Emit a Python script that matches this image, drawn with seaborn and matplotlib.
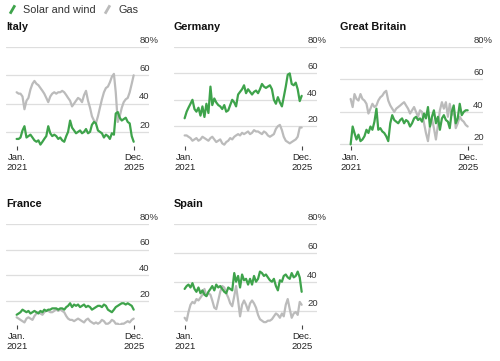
import numpy as np
import pandas as pd
import seaborn as sns
import matplotlib.pyplot as plt
from matplotlib.lines import Line2D

sns.set_theme(style="white")
plt.rcParams["font.family"] = ["Liberation Sans", "DejaVu Sans"]

# ---------------------------------------------------------
# Data: monthly share of power generation, Jan 2021 - Dec 2025 (%)
# ---------------------------------------------------------
months = pd.date_range("2021-01-01", periods=60, freq="MS")

italy_wind_solar = [15, 15, 16, 21, 24, 16, 17, 18, 16, 14, 13, 14, 11, 13, 15, 17, 24, 19, 17, 18,
                    17, 15, 16, 14, 13, 17, 20, 28, 23, 21, 19, 20, 21, 19, 20, 22, 19, 20, 25, 27,
                    26, 21, 20, 19, 16, 18, 17, 15, 19, 18, 33, 34, 30, 28, 29, 30, 27, 26, 17, 13]
italy_gas = [48, 47, 47, 45, 36, 42, 44, 50, 54, 56, 54, 53, 51, 49, 47, 44, 41, 45, 47, 48,
             47, 48, 48, 49, 48, 46, 44, 42, 38, 40, 42, 44, 43, 41, 46, 49, 42, 37, 31, 28,
             26, 31, 37, 43, 48, 51, 52, 55, 59, 61, 48, 27, 31, 37, 41, 43, 44, 48, 54, 60]

germany_wind_solar = [26, 31, 34, 37, 40, 33, 31, 34, 28, 35, 27, 37, 30, 50, 36, 41, 38, 36, 35, 33,
                      36, 31, 32, 36, 40, 38, 35, 44, 46, 48, 51, 45, 48, 46, 44, 46, 47, 45, 48, 52,
                      50, 49, 50, 51, 48, 40, 37, 42, 38, 35, 42, 50, 59, 60, 52, 51, 53, 48, 39, 43]
germany_gas = [13, 13, 12, 11, 9, 10, 11, 9, 10, 12, 11, 10, 9, 11, 12, 10, 8, 9, 10, 7,
               6, 8, 9, 11, 10, 12, 13, 14, 13, 15, 14, 15, 16, 14, 15, 17, 16, 16, 15, 14,
               16, 15, 13, 12, 13, 14, 18, 20, 21, 17, 12, 9, 8, 7, 8, 9, 10, 12, 19, 19]

gb_wind_solar = [20, 31, 27, 23, 26, 22, 23, 25, 29, 27, 31, 29, 34, 42, 29, 30, 28, 27, 25, 22,
                 33, 38, 35, 34, 33, 35, 36, 33, 35, 34, 31, 33, 36, 37, 35, 36, 34, 39, 36, 43,
                 31, 37, 41, 33, 37, 29, 36, 38, 35, 34, 30, 40, 44, 33, 36, 45, 38, 40, 41, 41]
gb_gas = [48, 43, 51, 48, 47, 51, 48, 47, 45, 39, 42, 45, 43, 44, 47, 49, 50, 52, 53, 47,
          44, 42, 40, 42, 43, 44, 45, 46, 44, 42, 39, 41, 43, 40, 37, 41, 40, 33, 27, 22,
          31, 36, 30, 23, 32, 41, 46, 42, 46, 37, 45, 38, 42, 30, 33, 37, 35, 34, 32, 31]

france_wind_solar = [9, 10, 11, 13, 12, 11, 12, 10, 11, 12, 11, 10, 12, 11, 13, 12, 13, 13, 14, 14,
                     14, 13, 14, 14, 13, 15, 16, 18, 15, 17, 16, 17, 15, 16, 17, 15, 16, 15, 13, 14,
                     15, 16, 16, 15, 17, 16, 13, 12, 11, 13, 15, 16, 17, 18, 18, 17, 18, 17, 16, 13]
france_gas = [7, 6, 5, 4, 3, 6, 7, 6, 5, 8, 10, 11, 10, 9, 11, 12, 12, 11, 11, 12,
              13, 12, 13, 12, 11, 8, 6, 5, 5, 4, 5, 6, 5, 4, 3, 5, 6, 4, 3, 2,
              3, 2, 3, 5, 4, 2, 2, 3, 5, 4, 2, 2, 1, 2, 2, 3, 4, 3, 5, 6]

spain_wind_solar = [35, 37, 38, 36, 39, 35, 33, 36, 32, 34, 31, 30, 33, 35, 37, 34, 38, 36, 37, 35,
                    33, 32, 36, 35, 34, 46, 40, 44, 36, 45, 41, 42, 38, 42, 38, 44, 40, 42, 47, 46,
                    44, 45, 43, 41, 40, 42, 37, 34, 41, 40, 44, 45, 43, 42, 46, 43, 44, 47, 43, 33]
spain_gas = [15, 13, 19, 24, 26, 25, 28, 27, 29, 31, 35, 30, 32, 31, 27, 22, 21, 27, 33, 37,
             36, 32, 29, 25, 23, 30, 37, 27, 16, 24, 27, 24, 20, 25, 27, 25, 22, 17, 14, 13,
             12, 12, 13, 13, 14, 16, 18, 17, 15, 18, 16, 24, 28, 21, 15, 18, 19, 17, 26, 24]

countries = ["Italy", "Germany", "Great Britain", "France", "Spain"]
wind_solar = [italy_wind_solar, germany_wind_solar, gb_wind_solar, france_wind_solar, spain_wind_solar]
gas = [italy_gas, germany_gas, gb_gas, france_gas, spain_gas]
y_bottom = [10, 5, 19, 1, 10]          # lower limit of each panel
grid_values = [20, 40, 60, 80]
grid_labels = ["20", "40", "60", "80%"]

green = "#3ea34b"
grey = "#bbbbbb"
palette = {"Solar and wind": green, "Gas": grey}

# ---------------------------------------------------------
# Layout: 3 + 2 small multiples
# ---------------------------------------------------------
fig = plt.figure(figsize=(5, 3.61), dpi=100)
W, H = 500, 361
lefts = [6, 174, 340, 6, 174]
tops = [47, 47, 47, 224, 224]
bottoms = [146, 146, 146, 325, 325]
width = 143

pad_left = pd.Timedelta(days=163)
pad_right = pd.Timedelta(days=235)

for i, name in enumerate(countries):
    ax = fig.add_axes([lefts[i] / W, 1 - bottoms[i] / H, width / W, (bottoms[i] - tops[i]) / H])
    df = pd.DataFrame({
        "date": list(months) * 2,
        "share": wind_solar[i] + gas[i],
        "source": ["Solar and wind"] * 60 + ["Gas"] * 60,
    })
    sns.lineplot(data=df, x="date", y="share", hue="source", hue_order=["Gas", "Solar and wind"],
                 palette=palette, linewidth=1.6, legend=False, ax=ax)

    ax.set_xlim(months[0] - pad_left, months[-1] + pad_right)
    ax.set_ylim(y_bottom[i], 80)
    for v, lab in zip(grid_values, grid_labels):
        ax.axhline(v, color="#dedede", linewidth=0.9, zorder=0)
        ax.annotate(lab, xy=(1, v), xycoords=("axes fraction", "data"),
                    xytext=(-7, 3), textcoords="offset points",
                    ha="left", va="baseline", fontsize=6.8, color="#333333")

    ax.set_xticks([months[0], months[-1]])
    ax.set_xticklabels(["Jan.\n2021", "Dec.\n2025"])
    ax.set_yticks([])
    ax.tick_params(axis="x", direction="out", length=3, width=0.8, color="#444444",
                   labelsize=6.8, labelcolor="#222222", pad=2, bottom=True)
    ax.set_xlabel("")
    ax.set_ylabel("")
    for s in ax.spines.values():
        s.set_visible(False)
    ax.patch.set_alpha(0)
    ax.set_title(name, loc="left", fontsize=7.8, fontweight="bold", color="#111111", pad=12.5)

# ---------------------------------------------------------
# Legend on top
# ---------------------------------------------------------
handles = [
    Line2D([], [], color=green, marker=(2, 0, -30), linestyle="None", markersize=7, markeredgewidth=2),
    Line2D([], [], color=grey, marker=(2, 0, -30), linestyle="None", markersize=7, markeredgewidth=2),
]
fig.legend(handles, ["Solar and wind", "Gas"], loc="upper left", bbox_to_anchor=(0.0, 1.005),
           ncol=2, frameon=False, fontsize=7.8, handlelength=1.0, handletextpad=0.5,
           columnspacing=0.6, borderaxespad=0.2, labelcolor="#333333")

fig.savefig("out.png", dpi=100)
